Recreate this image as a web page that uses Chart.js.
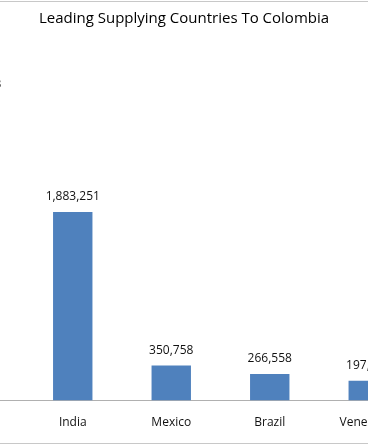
<!DOCTYPE html>
<html>
<head>
<meta charset="utf-8">
<script src="https://cdn.jsdelivr.net/npm/chart.js@4"></script>
<style>
    html, body { margin: 0; padding: 0; background: #fff; overflow: hidden; }
    #wrap { position: relative; width: 368px; height: 445px; overflow: hidden; }
    #myChart { position: absolute; left: -75px; top: 0; }
    .rule { position: absolute; left: 0; width: 368px; height: 0; border-top: 1px solid #c8c8c8; }
</style>
</head>
<body>
<div id="wrap">
    <canvas id="myChart" width="518" height="445"></canvas>
    <div class="rule" style="top:1px"></div>
    <div class="rule" style="top:443px"></div>
</div>
<script>
// chart data
var countries = ["China", "India", "Mexico", "Brazil", "Venezuela"];
var imports = [3005043, 1883251, 350758, 266558, 197471];

// draws the value above each bar
var barValues = {
    id: "barValues",
    afterDatasetsDraw: function (chart) {
        var ctx = chart.ctx;
        var meta = chart.getDatasetMeta(0);
        ctx.save();
        ctx.font = "12px 'Open Sans'";
        ctx.fillStyle = "#111";
        ctx.textAlign = "center";
        ctx.textBaseline = "bottom";
        meta.data.forEach(function (bar, i) {
            ctx.fillText(imports[i].toLocaleString("en-US"), bar.x, bar.y - 9);
        });
        ctx.restore();
    }
};

var ctx = document.getElementById("myChart").getContext("2d");
var myChart = new Chart(ctx, {
    type: "bar",
    data: {
        labels: countries,
        datasets: [
            {
                data: imports,
                backgroundColor: "#4f81bd",
                barPercentage: 0.4,
                categoryPercentage: 1.0
            }
        ]
    },
    options: {
        responsive: false,
        animation: false,
        devicePixelRatio: 1,
        layout: {
            padding: 0
        },
        plugins: {
            legend: { display: false },
            tooltip: { enabled: false },
            title: {
                display: true,
                text: "Leading Supplying Countries To Colombia",
                color: "#000",
                font: { family: "'Open Sans'", size: 15, weight: "normal" },
                padding: { top: 10, bottom: 22 }
            }
        },
        scales: {
            x: {
                grid: { display: false, drawTicks: false },
                border: { display: true, color: "#b0b0b0", width: 1 },
                ticks: {
                    color: "#111",
                    font: { family: "'Open Sans'", size: 12 },
                    padding: 15
                }
            },
            y: {
                // empty axis on the right, only keeps the plot narrower than the title
                position: "right",
                min: 0,
                max: 3500000,
                grid: { display: false, drawTicks: false },
                border: { display: false },
                ticks: { display: false },
                afterFit: function (scale) {
                    scale.width = 25.5;
                }
            }
        }
    },
    plugins: [barValues]
});
</script>
</body>
</html>
